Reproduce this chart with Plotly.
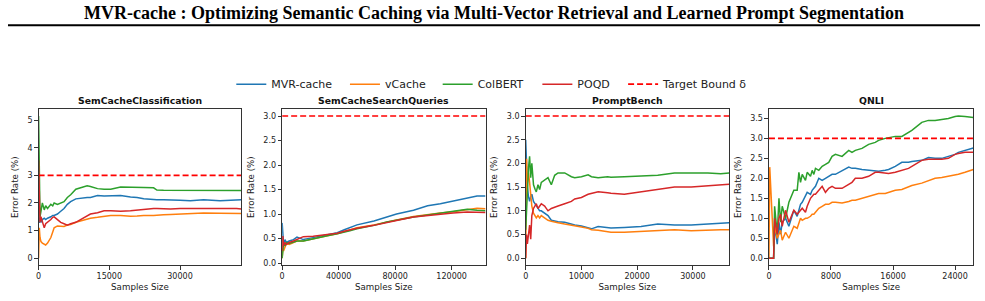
import plotly.graph_objects as go

TITLE = "MVR-cache : Optimizing Semantic Caching via Multi-Vector Retrieval and Learned Prompt Segmentation"
DATASETS = ["SemCacheClassification", "SemCacheSearchQueries", "PromptBench", "QNLI"]
METHODS = ["MVR-cache", "vCache", "ColBERT", "POQD"]
COLORS = ["#1f77b4", "#ff7f0e", "#2ca02c", "#d62728"]
TARGET = 3.0
TARGET_LABEL = "Target Bound δ"
X_LABEL = "Samples Size"
Y_LABEL = "Error Rate (%)"

# ---------------- SemCacheClassification ----------------
P1_X = [0, 150, 300, 500, 800, 1200, 1500, 1900, 2600, 3000, 3300, 4000, 4700, 5400, 6100, 6800,
        7900, 8900, 10300, 11000, 12500, 13900, 15300, 17400, 19500, 20900, 22300, 24400, 25100,
        26500, 28000, 30000, 32200, 35000, 38500, 42000, 43000]
P1_MVR = [1.3, 1.3, 1.5, 1.3, 1.4, 1.45, 1.4, 1.45, 1.5, 1.55, 1.55, 1.6, 1.7, 1.8, 1.95, 2.05,
          2.15, 2.18, 2.2, 2.2, 2.27, 2.25, 2.25, 2.27, 2.22, 2.2, 2.15, 2.12, 2.12,
          2.12, 2.12, 2.1, 2.08, 2.12, 2.08, 2.09, 2.12]
P1_VC = [0.0, 1.1, 0.75, 0.6, 0.55, 0.5, 0.48, 0.55, 0.75, 0.95, 1.1, 1.17, 1.15, 1.15, 1.2, 1.22,
         1.3, 1.35, 1.42, 1.45, 1.48, 1.52, 1.55, 1.55, 1.52, 1.53, 1.55, 1.55, 1.55,
         1.57, 1.58, 1.6, 1.62, 1.64, 1.63, 1.62, 1.62]
P1_CB = [5.15, 3.2, 1.5, 1.7, 2.0, 1.75, 1.9, 1.8, 1.95, 1.9, 2.0, 1.95, 2.0, 2.05, 2.2, 2.3,
         2.5, 2.55, 2.62, 2.6, 2.52, 2.5, 2.5, 2.58, 2.58, 2.57, 2.56, 2.55, 2.47,
         2.46, 2.46, 2.46, 2.46, 2.46, 2.46, 2.45, 2.45]
P1_PQ = [3.55, 1.6, 1.3, 1.5, 1.3, 1.1, 1.25, 1.3, 1.4, 1.48, 1.5, 1.4, 1.3, 1.25, 1.2, 1.25,
         1.3, 1.4, 1.55, 1.6, 1.65, 1.72, 1.72, 1.7, 1.72, 1.75, 1.78, 1.8, 1.8,
         1.78, 1.78, 1.8, 1.8, 1.82, 1.82, 1.8, 1.78]

# ---------------- SemCacheSearchQueries ----------------
P2_X = [0, 500, 1000, 2000, 3000, 5000, 8000, 10500, 15000, 22000, 32000, 39000, 44000, 48000,
        53000, 65000, 74000, 81000, 93000, 103000, 112000, 121000, 131000, 138000, 144000]
P2_MVR = [0.82, 0.5, 0.38, 0.48, 0.42, 0.45, 0.48, 0.53, 0.48, 0.52, 0.58, 0.62, 0.68, 0.72,
          0.78, 0.86, 0.94, 1.0, 1.08, 1.17, 1.21, 1.27, 1.33, 1.37, 1.37]
P2_VC = [0.1, 0.3, 0.25, 0.35, 0.4, 0.38, 0.42, 0.45, 0.45, 0.5, 0.56, 0.6, 0.64, 0.67,
         0.72, 0.78, 0.84, 0.88, 0.95, 0.98, 1.02, 1.05, 1.09, 1.12, 1.11]
P2_CB = [0.1, 0.3, 0.4, 0.35, 0.42, 0.4, 0.42, 0.45, 0.45, 0.5, 0.56, 0.6, 0.63, 0.66,
         0.7, 0.77, 0.84, 0.88, 0.94, 0.98, 1.02, 1.05, 1.1, 1.08, 1.07]
P2_PQ = [0.25, 0.55, 0.35, 0.42, 0.38, 0.42, 0.45, 0.48, 0.54, 0.55, 0.58, 0.61, 0.65, 0.68,
         0.71, 0.77, 0.83, 0.87, 0.94, 0.97, 1.0, 1.02, 1.04, 1.03, 1.03]

# ---------------- PromptBench ----------------
P3_X = [0, 150, 300, 500, 700, 900, 1100, 1400, 1700, 1900, 2200, 2500, 2800, 3400, 4000, 4600,
        5200, 5800, 7000, 8200, 8800, 10000, 11200, 11800, 13000, 14700, 15300, 17700, 20700,
        23700, 26700, 29700, 32700, 35000, 36500]
P3_MVR = [2.5, 1.9, 1.5, 1.3, 1.2, 1.3, 1.35, 1.2, 1.15, 1.1, 1.05, 1.0, 1.0, 0.95, 0.9, 0.8,
          0.78, 0.77, 0.76, 0.72, 0.7, 0.68, 0.64, 0.62, 0.67, 0.65, 0.64, 0.65, 0.67,
          0.72, 0.7, 0.7, 0.72, 0.74, 0.75]
P3_VC = [0.0, 2.1, 1.6, 1.8, 1.6, 1.3, 1.1, 0.95, 0.9, 0.85, 0.9, 0.85, 0.9, 0.85, 0.8, 0.78,
         0.76, 0.75, 0.72, 0.7, 0.68, 0.66, 0.63, 0.6, 0.59, 0.56, 0.55, 0.55, 0.57,
         0.58, 0.6, 0.58, 0.6, 0.6, 0.6]
P3_CB = [0.6, 1.0, 1.6, 1.9, 2.15, 1.7, 2.0, 1.55, 1.45, 1.4, 1.55, 1.45, 1.6, 1.65, 1.7, 1.55,
         1.75, 1.8, 1.8, 1.72, 1.7, 1.72, 1.76, 1.72, 1.7, 1.72, 1.71, 1.72, 1.73,
         1.75, 1.8, 1.8, 1.8, 1.78, 1.8]
P3_PQ = [0.0, 0.5, 0.3, 0.5, 0.7, 0.4, 0.9, 1.05, 1.1, 1.15, 1.05, 1.1, 1.15, 1.1, 1.0, 1.05,
         1.08, 1.1, 1.15, 1.2, 1.25, 1.28, 1.35, 1.37, 1.4, 1.38, 1.37, 1.35, 1.4,
         1.45, 1.5, 1.5, 1.52, 1.55, 1.56]

# ---------------- QNLI ----------------
P4_X = [0, 100, 600, 730, 1070, 1290, 1500, 1710, 2140, 2570, 3210, 3640, 3860, 4070, 4290, 4710,
        4930, 5360, 5570, 5790, 6000, 6430, 6860, 7290, 7710, 8140, 8570, 9430, 10290, 10710,
        11140, 12000, 12860, 13710, 14140, 15000, 15430, 16290, 17140, 18000, 18430, 19710,
        20570, 21430, 22290, 23140, 24000, 24430, 25290, 26360]
P4_MVR = [0, 0, 0, 0.8, 0.35, 0.9, 0.6, 0.9, 1.0, 0.8, 1.2, 1.05, 1.2, 1.35, 1.4, 1.55,
          1.65, 1.6, 1.7, 1.75, 1.8, 2.0, 1.95, 2.0, 2.05, 2.1, 2.1, 2.2, 2.28, 2.25,
          2.25, 2.22, 2.2, 2.18, 2.18, 2.2, 2.22, 2.3, 2.4, 2.4, 2.42, 2.45,
          2.52, 2.5, 2.5, 2.55, 2.6, 2.65, 2.7, 2.76]
P4_VC = [0, 2.28, 0.3, 0.8, 0.5, 0.6, 0.7, 0.45, 0.65, 0.5, 0.8, 0.75, 0.9, 1.0, 0.95, 1.0,
         1.0, 1.05, 1.1, 1.1, 1.15, 1.25, 1.3, 1.35, 1.35, 1.4, 1.4, 1.38, 1.42, 1.45,
         1.45, 1.5, 1.55, 1.6, 1.62, 1.62, 1.65, 1.7, 1.72, 1.8, 1.82, 1.88,
         1.95, 2.0, 2.02, 2.05, 2.08, 2.1, 2.15, 2.22]
P4_CB = [0, 0, 0, 1.3, 0.6, 1.5, 0.9, 1.3, 1.0, 1.4, 1.7, 1.7, 2.15, 1.9, 2.1, 1.95,
         2.15, 2.05, 2.2, 2.1, 2.25, 2.2, 2.3, 2.35, 2.4, 2.55, 2.6, 2.55, 2.7, 2.65,
         2.7, 2.75, 2.85, 2.9, 2.95, 3.0, 3.02, 3.05, 3.05, 3.15, 3.2, 3.4,
         3.45, 3.45, 3.48, 3.5, 3.55, 3.56, 3.55, 3.52]
P4_PQ = [0, 0, 0, 1.0, 0.6, 1.0, 1.1, 0.8, 1.2, 0.9, 1.2, 1.1, 1.15, 1.2, 1.25, 1.15,
         1.3, 1.5, 1.55, 1.6, 1.6, 1.7, 1.8, 1.65, 1.75, 1.8, 1.75, 1.75, 1.85, 1.9,
         2.0, 2.0, 2.05, 2.15, 2.15, 2.12, 2.12, 2.15, 2.2, 2.25, 2.3, 2.45,
         2.48, 2.48, 2.48, 2.5, 2.6, 2.62, 2.65, 2.65]

X_TICKS = [[0, 15000, 30000], [0, 40000, 80000, 120000], [0, 10000, 20000, 30000], [0, 8000, 16000, 24000]]
Y_TICKS = [[0, 1, 2, 3, 4, 5], [0, 0.5, 1.0, 1.5, 2.0, 2.5, 3.0], [0, 0.5, 1.0, 1.5, 2.0, 2.5, 3.0],
           [0, 0.5, 1.0, 1.5, 2.0, 2.5, 3.0, 3.5]]
Y_FMT = ["{:.0f}", "{:.1f}", "{:.1f}", "{:.1f}"]

PANELS = [
    (P1_X, [P1_MVR, P1_VC, P1_CB, P1_PQ]),
    (P2_X, [P2_MVR, P2_VC, P2_CB, P2_PQ]),
    (P3_X, [P3_MVR, P3_VC, P3_CB, P3_PQ]),
    (P4_X, [P4_MVR, P4_VC, P4_CB, P4_PQ]),
]

W, H = 985, 301
X_DOMS = [(35.7, 239.0), (280.0, 484.0), (524.3, 728.3), (768.3, 973.3)]
Y_TOP, Y_BOT = 110.0, 268.0
FONT = "DejaVu Sans"
AX_COL = "#333333"
LEG_TEXT_X = [269, 383, 476, 576, 662]   # pixel where each legend label starts
LEG_Y = 85

fig = go.Figure()
layout = dict(
    width=W, height=H, margin=dict(l=0, r=0, t=0, b=0),
    paper_bgcolor="white", plot_bgcolor="white",
    font=dict(family=FONT, color="#222222", size=8),
    showlegend=True,
)
legend_ids = ["legend"] + [f"legend{k}" for k in range(2, 6)]
for k, lid in enumerate(legend_ids):
    layout[lid] = dict(orientation="h", x=(LEG_TEXT_X[k] - 40) / W, xanchor="left",
                       y=1 - LEG_Y / H, yanchor="middle",
                       font=dict(family=FONT, size=11, color="#222222"),
                       bgcolor="rgba(0,0,0,0)", itemwidth=30)
annotations = []
shapes = []

for i, (xs, series) in enumerate(PANELS):
    n = i + 1
    xa = "x" if n == 1 else f"x{n}"
    ya = "y" if n == 1 else f"y{n}"
    for j, ys in enumerate(series):
        fig.add_trace(go.Scatter(x=xs, y=ys, mode="lines", name=METHODS[j],
                                 line=dict(color=COLORS[j], width=1.5),
                                 xaxis=xa, yaxis=ya, showlegend=(i == 0), legend=legend_ids[j]))
    fig.add_trace(go.Scatter(x=[xs[0], xs[-1]], y=[TARGET, TARGET], mode="lines", name=TARGET_LABEL,
                             line=dict(color="#ff0000", width=1.6, dash="6px,3px"),
                             xaxis=xa, yaxis=ya, showlegend=(i == 0), legend=legend_ids[4]))
    allv = [v for s in series for v in s] + [TARGET]
    lo, hi = min(allv), max(allv)
    pad = 0.05 * (hi - lo)
    x0, x1 = X_DOMS[i]
    key = "" if n == 1 else str(n)
    layout[f"xaxis{key}"] = dict(
        domain=[x0 / W, x1 / W], anchor=ya, range=[xs[0], xs[-1]],
        tickvals=X_TICKS[i], ticktext=[str(v) for v in X_TICKS[i]],
        ticks="outside", ticklen=3.5, tickwidth=1, tickcolor=AX_COL,
        showline=True, mirror=True, linecolor=AX_COL, linewidth=1,
        showgrid=False, zeroline=False, tickfont=dict(size=8),
        title=dict(text=X_LABEL, font=dict(size=8.7), standoff=3),
    )
    layout[f"yaxis{key}"] = dict(
        domain=[1 - Y_BOT / H, 1 - Y_TOP / H], anchor=xa, range=[lo - pad, hi + pad],
        tickvals=Y_TICKS[i], ticktext=[Y_FMT[i].format(v) for v in Y_TICKS[i]],
        ticks="outside", ticklen=3.5, tickwidth=1, tickcolor=AX_COL,
        showline=True, mirror=True, linecolor=AX_COL, linewidth=1,
        showgrid=False, zeroline=False, tickfont=dict(size=8),
        title=dict(text=Y_LABEL, font=dict(size=8.7), standoff=7),
    )
    annotations.append(dict(text=f"<b>{DATASETS[i]}</b>", x=(x0 + x1) / 2 / W, y=1 - 102 / H,
                            xref="paper", yref="paper", xanchor="center", yanchor="middle",
                            showarrow=False, font=dict(family=FONT, size=9.3, color="#111111")))

annotations.append(dict(text=f"<b>{TITLE}</b>", x=493 / W, y=1 - 13 / H, xref="paper", yref="paper",
                        xanchor="center", yanchor="middle", showarrow=False,
                        font=dict(family="Liberation Serif", size=18, color="#000000")))
shapes.append(dict(type="line", xref="paper", yref="paper", x0=5 / W, x1=980 / W,
                   y0=1 - 25.5 / H, y1=1 - 25.5 / H, line=dict(color="#000000", width=2)))

layout["annotations"] = annotations
layout["shapes"] = shapes
fig.update_layout(**layout)
fig.write_html("out.html")
